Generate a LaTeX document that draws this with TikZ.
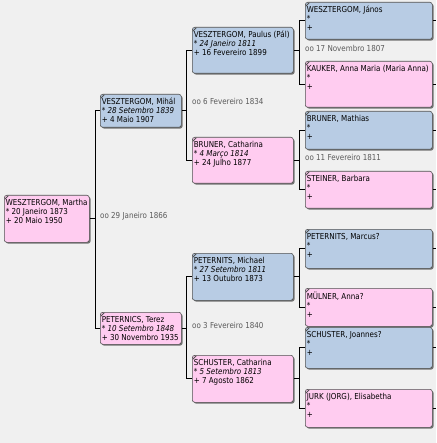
\documentclass[tikz,border=0pt]{standalone}
\usepackage{fontspec}
\setmainfont[FakeStretch=0.87]{DejaVu Sans}
\usepackage{tikz}
\usetikzlibrary{shadows}
\definecolor{azul}{HTML}{B8CCE4}
\definecolor{rosa}{HTML}{FFCCF0}
\definecolor{fundo}{HTML}{F0F0F0}
\definecolor{moldura}{HTML}{505050}
\definecolor{textocasal}{HTML}{5A5A5A}
\newcommand{\ficha}[5]{\parbox[c][#2pt][t]{#1pt}{\vspace*{3.6pt}\strut\makebox[0pt][l]{#3}\\ \makebox[0pt][l]{#4}\\ \makebox[0pt][l]{#5}}}

\begin{document}
\begin{tikzpicture}[x=1pt, y=-1pt,
        pessoa/.style={draw=moldura, line width=0.6pt, rounded corners=2.5pt, anchor=north west, inner xsep=1.5pt, inner ysep=0pt,
            font=\fontsize{8.2}{9}\selectfont,
            drop shadow={shadow xshift=1.3pt, shadow yshift=-1.3pt, fill=black!55, opacity=1},
            path picture={\draw[line width=0.9pt] ([shift={(0.4pt,-4pt)}]path picture bounding box.north west) -- ++(3.6pt,3.6pt);}},
        casal/.style={anchor=west, inner sep=0pt, text=textocasal, font=\fontsize{8.2}{9}\selectfont},
        linha/.style={line width=1pt}]
        \useasboundingbox (0,0) rectangle (436,443);
        \fill[fundo] (0,0) rectangle (436,443);
        \coordinate (borda) at (436,0);

        \node[pessoa, fill=rosa] (martha) at (4,195) {\ficha{82}{47}{WESZTERGOM, Martha}{* 20 Janeiro 1873}{+ 20 Maio 1950}};

        \node[pessoa, fill=azul] (mihal) at (100,94) {\ficha{78}{33}{VESZTERGOM, Mihál}{\textit{* 28 Setembro 1839}}{+ 4 Maio 1907}};
        \node[pessoa, fill=rosa] (terez) at (100,312) {\ficha{78}{32}{PETERNICS, Terez}{\textit{* 10 Setembro 1848}}{+ 30 Novembro 1935}};
        \node[casal] (c1866) at (100,216) {oo 29 Janeiro 1866};

        \node[pessoa, fill=azul] (paulus) at (192,27) {\ficha{98}{46}{VESZTERGOM, Paulus (Pál)}{\textit{* 24 Janeiro 1811}}{+ 16 Fevereiro 1899}};
        \node[pessoa, fill=rosa] (catharinaB) at (192,137) {\ficha{98}{46}{BRUNER, Catharina}{\textit{* 4 Março 1814}}{+ 24 Julho 1877}};
        \node[casal] (c1834) at (192,101) {oo 6 Fevereiro 1834};
        \node[pessoa, fill=azul] (michael) at (192,253) {\ficha{98}{47}{PETERNITS, Michael}{\textit{* 27 Setembro 1811}}{+ 13 Outubro 1873}};
        \node[pessoa, fill=rosa] (catharinaS) at (192,355) {\ficha{98}{47}{SCHUSTER, Catharina}{\textit{* 5 Setembro 1813}}{+ 7 Agosto 1862}};
        \node[casal] (c1840) at (192,325) {oo 3 Fevereiro 1840};

        \node[pessoa, fill=azul] (janos) at (305,2) {\ficha{124}{37}{WESZTERGOM, János}{*}{+}};
        \node[pessoa, fill=rosa] (kauker) at (305,61) {\ficha{124}{46}{KAUKER, Anna Maria (Maria Anna)}{*}{+}};
        \node[casal] (c1807) at (305,48) {oo 17 Novembro 1807};
        \node[pessoa, fill=azul] (mathias) at (305,111) {\ficha{124}{38}{BRUNER, Mathias}{*}{+}};
        \node[pessoa, fill=rosa] (steiner) at (305,171) {\ficha{124}{37}{STEINER, Barbara}{*}{+}};
        \node[casal] (c1811) at (305,157) {oo 11 Fevereiro 1811};
        \node[pessoa, fill=azul] (marcus) at (305,229) {\ficha{124}{39}{PETERNITS, Marcus?}{*}{+}};
        \node[pessoa, fill=rosa] (mulner) at (305,288) {\ficha{124}{38}{MÜLNER, Anna?}{*}{+}};
        \node[pessoa, fill=azul] (joannes) at (305,327) {\ficha{124}{41}{SCHUSTER, Joannes?}{*}{+}};
        \node[pessoa, fill=rosa] (jurk) at (305,389) {\ficha{124}{38}{JURK (JORG), Elisabetha}{*}{+}};

        % ligacoes pais -> filho
        \draw[linha] (mihal.west) -- ++(-5,0) |- (martha.east); \draw[linha] (terez.west) -- ++(-5,0) |- (martha.east);
        \draw[linha] (paulus.west) -- ++(-6,0) |- (mihal.east); \draw[linha] (catharinaB.west) -- ++(-6,0) |- (mihal.east);
        \draw[linha] (michael.west) -- ++(-6,0) |- (terez.east); \draw[linha] (catharinaS.west) -- ++(-6,0) |- (terez.east);
        \draw[linha] (janos.west) -- ++(-6,0) |- (paulus.east); \draw[linha] (kauker.west) -- ++(-6,0) |- (paulus.east);
        \draw[linha] (mathias.west) -- ++(-6,0) |- (catharinaB.east); \draw[linha] (steiner.west) -- ++(-6,0) |- (catharinaB.east);
        \draw[linha] (marcus.west) -- ++(-6,0) |- (michael.east); \draw[linha] (mulner.west) -- ++(-6,0) |- (michael.east);
        \draw[linha] (joannes.west) -- ++(-6,0) |- (catharinaS.east); \draw[linha] (jurk.west) -- ++(-6,0) |- (catharinaS.east);

        % geracao seguinte, fora do quadro
        \draw[linha] (janos.east) -- (janos.east -| borda); \draw[linha] (kauker.east) -- (kauker.east -| borda);
        \draw[linha] (mathias.east) -- (mathias.east -| borda); \draw[linha] (steiner.east) -- (steiner.east -| borda);
        \draw[linha] (marcus.east) -- (marcus.east -| borda); \draw[linha] (mulner.east) -- (mulner.east -| borda);
        \draw[linha] (joannes.east) -- (joannes.east -| borda); \draw[linha] (jurk.east) -- (jurk.east -| borda);
    \end{tikzpicture}
\end{document}
